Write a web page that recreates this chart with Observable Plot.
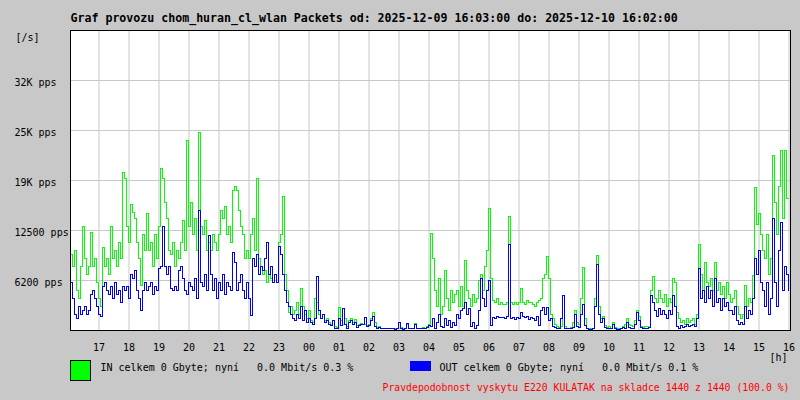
<!DOCTYPE html>
<html><head><meta charset="utf-8">
<script src="https://cdn.jsdelivr.net/npm/d3@7"></script>
<script src="https://cdn.jsdelivr.net/npm/@observablehq/plot@0.6"></script>
<style>
html,body{margin:0;padding:0;background:#c8c8c8;}
#wrap{position:relative;width:800px;height:400px;}
.sw{position:absolute;box-sizing:border-box;}
svg text{white-space:pre;}
</style></head><body><div id="wrap"></div>
<script>
const title = "Graf provozu chom_huran_cl_wlan Packets od: 2025-12-09 16:03:00 do: 2025-12-10 16:02:00";
const unitLabel = "[/s]";
const hourUnit = "[h]";
const legendIn = "IN celkem 0 Gbyte; nyní\u00a0\u00a0\u00a00.0 Mbit/s 0.3 %";
const legendOut = "OUT celkem 0 Gbyte; nyní\u00a0\u00a0\u00a00.0 Mbit/s 0.1 %";
const footer = "Pravdepodobnost vyskytu E220 KULATAK na skladce 1440 z 1440 (100.0 %)";
const startTime = Date.UTC(2025, 11, 9, 16, 3);
const stepMinutes = 4;

// IN packets per second (thousands), one value every 4 minutes
const inK = [
9.5,8,10,5,4,8,13,9,7,8,
12.3,8,9,6,4,3,10.4,8,9,7,
13,9,10,8,11,9,19.8,19,13,11,
15.8,14.8,14,11,9,5.6,12,10,14.6,10,
11,8,12,9,13,20.2,19,16,14,10,
9.5,11,8,10,9,11,13.7,10,23.75,13,
16,12,14,10,24.8,13,12,13.7,10,11,
10,12,11,10,12,15,14,15.5,12,13,
11,17.5,18,17.5,15,13,12,9,10,9,
12,14,10,19,9,8,7,7.5,6,7,
6.5,6,7,6,11,12,16.7,7,5,2.3,
3,2,2.5,3.5,2,5.3,3,2,1.5,2.5,
1.2,1,4,3.5,2,1.5,2,1.2,1.5,1,
0.8,1.3,0.5,0.4,2.9,1.2,0.8,1.5,0.5,1.2,
1.5,1,1.4,0.6,0.8,0.9,0.7,0.8,0.6,0.8,
1.5,2.3,1,0.4,0.5,0.3,0.3,0.2,0.3,0.3,
0.2,0.3,0.2,0.3,1,0.4,0.2,0.3,0.8,0.3,
0.2,0.3,0.9,0.3,0.2,0.3,0.4,0.3,0.5,0.8,
12.1,9,5,3,6.5,2,3,7.5,4,2.5,
5,3.5,4.5,5,3,5.5,3,8.75,5,4,
3,4.5,3.5,4,6.3,7,5,8,10,15.2,
6.5,3.8,3.5,4,3.3,3.5,3.2,3.2,3.5,14.3,
3.5,3.3,3.5,3.2,3.5,5.2,3.5,3.3,3.8,3.5,
3.5,3.2,3,3.5,3.8,4,6.5,7,9.25,6.5,
2,1.5,0.8,0.5,0.4,0.5,4.4,0.5,0.3,0.3,
0.4,1,2.5,1,0.8,4,7.9,1.5,0.3,0.2,
0.2,0.3,4,9.4,3,1.5,1.7,0.6,0.4,0.5,
0.3,1,0.4,0.2,0.2,0.3,0.5,0.7,1.5,0.8,
0.6,0.5,1.2,2.5,1.8,0.5,0.4,0.5,0.5,0.4,
5,6.7,4,3.5,5,4,3.5,4.5,3,4,
3.5,6.5,6,2.3,1.5,1,1.2,0.8,1.5,1,
1.2,1.5,0.8,2,10.8,7,5,8.5,6,5.5,
6.5,5,8.5,5,6,4.5,5.5,4,6,4.5,
3.5,4,5,3,2,1.5,2,5.6,3,4,
3.5,6.9,17.9,13.3,14.6,12,10,9,12,7,
9,21.9,16,12,18,22.5,14,22.5,16.5,16.5
];

// OUT packets per second (thousands)
const outK = [
6,4,2,1.5,3,2,2.5,3,2,2.5,
4.5,5,4,3,2,1.8,5.5,6,5,4.5,
5.5,4,6,4.5,5,3.5,5.5,5,5.5,4,
7,6.5,7.5,5,4,2.5,5,6,5,5.5,
6,4.5,5.5,5,7.7,8,13,8,7,8,
5.3,5,5.5,5,7.5,8,6.5,5,4.5,6,
5.5,5,6.5,4,15,6,5.5,7,5,11.9,
7,5,6.5,4,6,5,7,4.5,6,5.5,
5,9.8,8.5,5,6,7,5,4,6,4,
1.9,9,8,9.5,7,8,7.5,9,11,7,
8,6,7,6,10.5,9.5,7,5,3.5,3,
2,1.5,1.2,2,1.5,3,1.2,2.5,1,1.5,
1,0.8,1.5,6.7,2.5,1.5,2,1,1.2,0.8,
0.6,1.3,0.3,0.2,1.5,0.6,2.7,0.8,0.2,1,
1.2,0.8,1,0.4,0.6,0.7,0.8,1.6,0.5,0.6,
1.2,1.8,0.5,0.3,0.4,0.2,0.3,0.2,0.2,0.3,
0.2,0.2,0.1,0.3,1,0.3,0.1,0.2,0.9,0.2,
0.2,0.2,0.8,0.3,0.2,0.2,0.3,0.2,0.4,0.6,
0.5,1.5,0.3,1,2,0.5,0.4,1.5,0.6,1.2,
0.4,1,0.6,2,1.5,2.5,2.8,3.5,2,2.8,
0.5,1,0.3,0.6,2.5,6.5,4,3,5,6.25,
0.6,1.6,1.5,1.7,1.6,1.6,1.6,1.5,1.7,10.8,
1.5,1.6,1.4,1.6,1.5,2.3,1.8,1.6,1.8,1.4,
1.6,1.5,1.3,1.8,0.6,2.5,2.9,2,2.9,1.2,
1.5,0.5,0.4,0.3,0.2,1.5,4.4,0.3,0.2,0.2,
0.2,0.4,2,0.5,0.4,2,3.3,0.6,0.2,0.1,
0.1,0.2,3,8.3,2,1,1.5,0.4,0.3,0.2,
0.2,0.8,0.2,0.1,0.1,0.2,0.4,0.3,1,0.4,
0.3,0.3,0.8,2.3,1.3,0.4,0.2,0.3,0.3,0.4,
4.4,3.5,2.5,1.8,2.8,2,2.5,2,1.5,2.5,
2,4.4,3,0.5,0.3,0.6,0.4,0.5,0.8,0.5,
0.6,0.7,0.5,1.5,7.7,4,5,3.5,5.5,4,
5,3,6.5,3.5,4,2.5,4,3,3.5,2.5,
2.5,2,3,1.2,0.8,1,0.7,3,1.5,2.5,
2,4,9,7,10,6,5,3,6,2,
4,14,6,3,10,13.5,5,8,7,5
];

const hourLabels = ["17","18","19","20","21","22","23","00","01","02","03","04","05","06","07","08","09","10","11","12","13","14","15","16"];
const yTicks = [6250, 12500, 18750, 25000, 31250];
const yLabels = ["6200 pps", "12500 pps", "19K pps", "25K pps", "32K pps"];

const hourTicks = hourLabels.map((h, k) => new Date(Date.UTC(2025, 11, 9, 17 + k)));
const hourMap = new Map(hourTicks.map((d, k) => [d.getTime(), hourLabels[k]]));
const toRows = arr => arr.map((v, i) => ({t: new Date(startTime + i * stepMinutes * 60000), v: v * 1000}));
const inRows = toRows(inK);
const outRows = toRows(outK);

const FONT = "'DejaVu Sans Mono', monospace";
const txt = {fontSize: 10, fill: "black", lineAnchor: "middle"};
const chart = Plot.plot({
  width: 800, height: 400,
  marginLeft: 70, marginRight: 10, marginTop: 30, marginBottom: 70,
  style: {background: "#c8c8c8", fontFamily: FONT, fontSize: "10px", color: "black", overflow: "visible"},
  x: {type: "utc", domain: [new Date(startTime), new Date(startTime + 1440 * 60000)], axis: null, label: null},
  y: {domain: [0, 37500], axis: null, label: null},
  marks: [
    Plot.frame({fill: "white", stroke: null}),
    Plot.gridX(hourTicks, {stroke: "#c8c8c8", strokeOpacity: 1}),
    Plot.gridY(yTicks, {stroke: "#c8c8c8", strokeOpacity: 1}),
    Plot.lineY(inRows, {x: "t", y: "v", curve: "step-after", stroke: "#00ff00", strokeWidth: 1, shapeRendering: "crispEdges"}),
    Plot.lineY(outRows, {x: "t", y: "v", curve: "step-after", stroke: "#0000ff", strokeWidth: 1, shapeRendering: "crispEdges"}),
    Plot.frame({stroke: "black", strokeWidth: 1}),
    Plot.axisX(hourTicks, {tickSize: 0, tickPadding: 13, label: null, tickFormat: d => hourMap.get(d.getTime()), fontSize: 10, fill: "black"}),
    Plot.text(yTicks, {...txt, y: d => d, text: (d, i) => yLabels[i], frameAnchor: "left", dx: -56, dy: 2, textAnchor: "start"}),
    Plot.text([unitLabel], {...txt, text: d => d, frameAnchor: "top-left", dx: -55, dy: 7, textAnchor: "start"}),
    Plot.text([title], {...txt, text: d => d, frameAnchor: "top-left", dx: 0, dy: -12, textAnchor: "start", fontSize: 11.6, fontWeight: "bold"}),
    Plot.text([hourUnit], {...txt, text: d => d, frameAnchor: "bottom-right", dx: -12, dy: 27, textAnchor: "middle"}),
    Plot.text([legendIn], {...txt, text: d => d, frameAnchor: "bottom-left", dx: 30, dy: 37, textAnchor: "start"}),
    Plot.text([legendOut], {...txt, text: d => d, frameAnchor: "bottom-left", dx: 369, dy: 37, textAnchor: "start"}),
    Plot.text([footer], {...txt, text: d => d, frameAnchor: "bottom-right", dx: -1, dy: 57.5, textAnchor: "end", fontSize: 9.8, fill: "#ff0000"})
  ]
});
const wrap = document.getElementById("wrap");
wrap.appendChild(chart);
const sw1 = document.createElement("div");
sw1.className = "sw";
Object.assign(sw1.style, {left: "70px", top: "360px", width: "21px", height: "21px", background: "#00ff00", border: "1px solid black"});
const sw2 = document.createElement("div");
sw2.className = "sw";
Object.assign(sw2.style, {left: "410px", top: "361px", width: "21px", height: "10px", background: "#0000ff"});
wrap.appendChild(sw1);
wrap.appendChild(sw2);
</script></body></html>
